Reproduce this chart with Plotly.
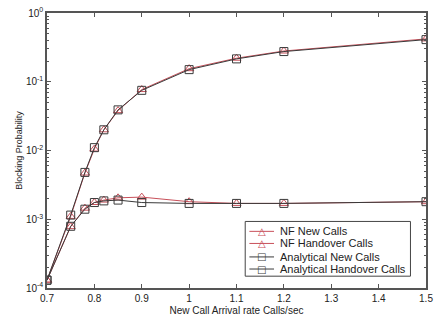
import plotly.graph_objects as go

x = [0.7, 0.75, 0.78, 0.8, 0.82, 0.85, 0.9, 1.0, 1.1, 1.2, 1.5]
nf_new = [1.3e-4, 1.1e-3, 4.7e-3, 1.05e-2, 2.0e-2, 3.8e-2, 7.7e-2, 0.155, 0.22, 0.28, 0.42]
nf_handover = [1.3e-4, 7.8e-4, 1.45e-3, 1.75e-3, 1.9e-3, 2.05e-3, 2.1e-3, 1.8e-3, 1.7e-3, 1.7e-3, 1.8e-3]
an_new = [1.3e-4, 1.15e-3, 4.8e-3, 1.1e-2, 2.0e-2, 3.9e-2, 7.5e-2, 0.15, 0.215, 0.275, 0.41]
an_handover = [1.3e-4, 7.9e-4, 1.4e-3, 1.75e-3, 1.85e-3, 1.9e-3, 1.75e-3, 1.7e-3, 1.7e-3, 1.7e-3, 1.8e-3]

series_names = ["NF New Calls", "NF Handover Calls", "Analytical New Calls", "Analytical Handover Calls"]

xticks = [0.7, 0.8, 0.9, 1.0, 1.1, 1.2, 1.3, 1.4, 1.5]
xticktext = ["0.7", "0.8", "0.9", "1", "1.1", "1.2", "1.3", "1.4", "1.5"]
yticks = [1e-4, 1e-3, 1e-2, 1e-1, 1]
yticktext = ["10<sup>-4</sup>", "10<sup>-3</sup>", "10<sup>-2</sup>", "10<sup>-1</sup>", "10<sup>0</sup>"]

red = "#c8505a"
dark = "#3a3a3a"
colors = [red, red, dark, dark]
symbols = ["triangle-up-open", "triangle-up-open", "square-open", "square-open"]
glyphs = ["△", "△", "□", "□"]

fig = go.Figure()
for name, ys, c, s in zip(series_names, [nf_new, nf_handover, an_new, an_handover], colors, symbols):
    fig.add_trace(go.Scatter(x=x, y=ys, name=name, mode="lines+markers",
                             line=dict(color=c, width=1),
                             marker=dict(symbol=s, size=8, color=c)))

# manual compact legend (paper coordinates)
lx0, lx1, ly0, ly1 = 0.523, 0.959, 0.043, 0.242
fig.add_shape(type="rect", xref="paper", yref="paper", x0=lx0, x1=lx1, y0=ly0, y1=ly1,
              line=dict(color="#444", width=1), fillcolor="white", layer="above")
row_y = [0.206, 0.162, 0.113, 0.069]
for name, c, g, ry in zip(series_names, colors, glyphs, row_y):
    fig.add_shape(type="line", xref="paper", yref="paper", x0=0.534, x1=0.599, y0=ry, y1=ry,
                  line=dict(color=c, width=1), layer="above")
    fig.add_annotation(xref="paper", yref="paper", x=0.5665, y=ry, text=g, showarrow=False,
                       font=dict(color=c, size=10, family="DejaVu Sans"),
                       xanchor="center", yanchor="middle", bgcolor="rgba(0,0,0,0)")
    fig.add_annotation(xref="paper", yref="paper", x=0.61, y=ry, text=name, showarrow=False,
                       font=dict(color="#222", size=11), xanchor="left", yanchor="middle")

axcol = "#555555"
fig.update_layout(
    width=439, height=324,
    margin=dict(l=47, r=6, t=11, b=36),
    paper_bgcolor="white", plot_bgcolor="white",
    font=dict(family="Liberation Sans, Arial, sans-serif", size=10, color="#222"),
    showlegend=False,
    xaxis=dict(range=[0.7, 1.5], tickvals=xticks, ticktext=xticktext,
               showgrid=False, zeroline=False, showline=True, linecolor=axcol, linewidth=1.5,
               mirror="ticks", ticks="inside", ticklen=4, tickcolor=axcol,
               title=dict(text="New Call Arrival rate Calls/sec", font=dict(size=10), standoff=4)),
    yaxis=dict(type="log", range=[-4, 0], tickvals=yticks, ticktext=yticktext,
               showgrid=False, zeroline=False, showline=True, linecolor=axcol, linewidth=1.5,
               mirror="ticks", ticks="inside", ticklen=4, tickcolor=axcol,
               minor=dict(ticks="inside", ticklen=2, tickcolor=axcol, dtick="D1", showgrid=False),
               title=dict(text="Blocking Probability", font=dict(size=9), standoff=2)),
)

fig.write_html("out.html")
